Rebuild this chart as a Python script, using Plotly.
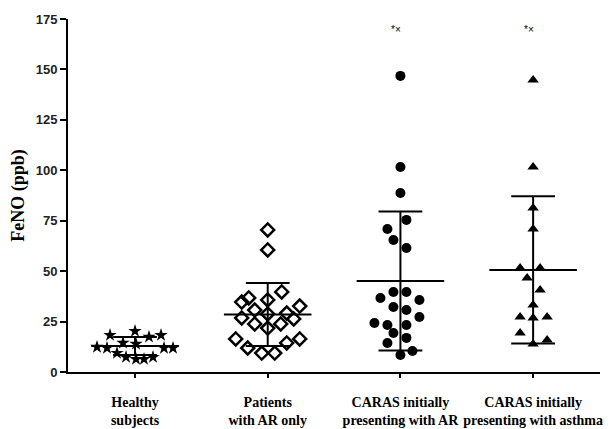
import plotly.graph_objects as go

categories = ["Healthy<br>subjects", "Patients<br>with AR only",
              "CARAS initially<br>presenting with AR", "CARAS initially<br>presenting with asthma"]

healthy = [20.3, 18.3, 17.4, 18.3, 14.4, 13.9, 12.4, 11.9, 11.9, 11.9, 9.4, 7.4, 6.4, 6.4, 7.4]
ar_only = [70.4, 60.5, 39.7, 36.7, 34.7, 35.7, 32.7, 30.7, 29.2, 26.3, 26.8, 28.8, 23.8, 23.8,
           21.8, 16.4, 16.4, 14.4, 11.9, 9.4, 9.4]
caras_ar = [146.8, 101.6, 88.7, 75.4, 70.9, 65.4, 61.5, 39.7, 39.7, 36.7, 35.7, 32.2, 30.7,
            27.3, 24.3, 23.3, 23.3, 19.3, 16.9, 14.4, 10.4, 8.4]
caras_asthma = [144.8, 101.6, 81.3, 70.9, 51.6, 51.6, 46.6, 40.7, 33.2, 27.3, 26.8, 27.3,
                19.3, 15.9, 13.9]

group_mean = [12.9, 28.5, 45.1, 50.6]
group_sd = [4.5, 15.6, 34.5, 36.5]

y_ticks = [0, 25, 50, 75, 100, 125, 150, 175]

# horizontal scatter (jitter) in pixels of the reference
jit_healthy = [0, -25, 14, 26, -12, 1, -38, -28, 29, 38, -18, -9, 1, 9, 18]
jit_ar_only = [0, 0, 14, -19, -26, 0, 32, -13, 19, 26, -26, 0, -13, 13, 0, -32, 32, 19, -20, -6, 7]
jit_caras_ar = [0, 0, 0, 6, -13, -7, 6, -7, 6, -20, 19, -7, 6, 19, -26, -13, 6, -7, 6, -13, 12, 0]
jit_caras_asthma = [0, 0, 0, 0, -13, 7, -6, 7, 0, -13, 0, 14, -13, 14, 0]

PX = 132.7  # pixels per category unit

groups = [healthy, ar_only, caras_ar, caras_asthma]
jitters = [jit_healthy, jit_ar_only, jit_caras_ar, jit_caras_asthma]
markers = [
    dict(symbol="star", size=10, color="black", line=dict(width=0)),
    dict(symbol="diamond-open", size=10, color="black", line=dict(width=2.5, color="black")),
    dict(symbol="circle", size=10, color="black", line=dict(width=0)),
    dict(symbol="triangle-up", size=10, color="black", line=dict(width=0)),
]

fig = go.Figure()
shapes = []
for i, (vals, jit, mk) in enumerate(zip(groups, jitters, markers)):
    xs = [i + j / PX for j in jit]
    fig.add_trace(go.Scatter(x=xs, y=vals, mode="markers", marker=mk,
                             showlegend=False, hoverinfo="y"))
    m, s = group_mean[i], group_sd[i]
    shapes.append(dict(type="line", xref="x", yref="y", x0=i - 0.33, x1=i + 0.33, y0=m, y1=m,
                       line=dict(color="black", width=2)))
    for yv in (m - s, m + s):
        shapes.append(dict(type="line", xref="x", yref="y", x0=i - 0.165, x1=i + 0.165,
                           y0=yv, y1=yv, line=dict(color="black", width=2)))
    shapes.append(dict(type="line", xref="x", yref="y", x0=i, x1=i, y0=m - s, y1=m + s,
                       line=dict(color="black", width=2)))

for i in (2, 3):
    fig.add_annotation(x=i - 0.03, y=169.6, text="*×", showarrow=False,
                       font=dict(family="Liberation Sans", size=10, color="black"))

fig.update_layout(
    width=606, height=421,
    margin=dict(l=60, r=14, t=11, b=57),
    paper_bgcolor="white", plot_bgcolor="white",
    shapes=shapes,
    xaxis=dict(range=[-0.505, 3.504], tickvals=[0, 1, 2, 3],
               ticktext=["<b>" + c.replace("<br>", "</b><br><b>") + "</b>" for c in categories],
               showline=True, linecolor="black", linewidth=2, ticks="outside",
               ticklen=4, tickwidth=1.5, tickcolor="black", showgrid=False, zeroline=False,
               ticklabelstandoff=12, automargin=False,
               tickfont=dict(family="Liberation Serif", size=14, color="black")),
    yaxis=dict(range=[0, 175], tickvals=y_ticks,
               ticktext=["<b>%d</b>" % v for v in y_ticks],
               showline=True, linecolor="black", linewidth=2, ticks="outside",
               ticklen=6, tickwidth=1.5, tickcolor="black", showgrid=False, zeroline=False,
               automargin=False,
               tickfont=dict(family="Liberation Sans", size=13, color="#222"),
               title=dict(text="<b>FeNO (ppb)</b>",
                          font=dict(family="Liberation Serif", size=18, color="black"),
                          standoff=10)),
)

fig.write_html("out.html")
